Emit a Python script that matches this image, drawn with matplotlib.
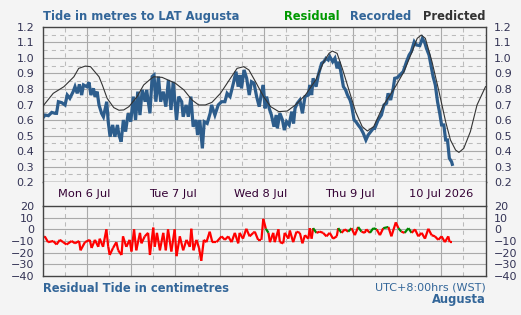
import numpy as np
import matplotlib
matplotlib.use('Agg')
import matplotlib.pyplot as plt
from matplotlib.collections import LineCollection

# hours since Mon 6 Jul 00:00
pred_h = [0, 2.9, 5.8, 8.5, 9.8, 11.6, 13, 15.3, 16.2, 17.5, 19.3, 20.7, 22, 23.4, 25.6, 27.4,
          29.3, 30.1, 32.4, 36, 38.3, 40.5, 42.3, 44.1, 45.9, 48.2, 50.9, 52.7, 54.5, 55.9, 57.7,
          59.9, 61.8, 64, 66.3, 68.5, 71.2, 74, 76.2, 77.6, 78.5, 79.8, 81.2, 83, 84.8, 86.6, 88,
          89.7, 92.4, 95.6, 97.9, 100.1, 101.5, 102.6, 103.7, 105.5, 107.4, 109.2, 110.5, 111.9,
          112.8, 114.1, 115.9, 117.7, 120]
pred_m = [0.686, 0.772, 0.815, 0.879, 0.933, 0.948, 0.944, 0.879, 0.826, 0.74, 0.68, 0.663, 0.665,
          0.686, 0.75, 0.826, 0.865, 0.879, 0.875, 0.837, 0.794, 0.729, 0.697, 0.697, 0.714, 0.772,
          0.869, 0.933, 0.944, 0.923, 0.847, 0.75, 0.686, 0.654, 0.658, 0.697, 0.761, 0.858, 0.976,
          1.03, 1.045, 1.03, 0.933, 0.794, 0.654, 0.557, 0.529, 0.557, 0.697, 0.815, 0.912, 1.04,
          1.127, 1.148, 1.127, 0.976, 0.783, 0.589, 0.471, 0.406, 0.391, 0.417, 0.525, 0.697, 0.815]

rec_h = [0, 0.7, 1.6, 2.5, 3.4, 3.8, 4.3, 5.2, 6.1, 6.7, 7.4, 8.3, 8.8, 9.4, 10, 10.6, 11.1, 12,
         12.6, 13.1, 13.8, 14.2, 14.8, 15.3, 16, 16.5, 17.4, 17.8, 18.3, 19, 19.6, 20.3, 20.7, 21.3,
         21.9, 22.5, 23.2, 23.9, 24.6, 25.2, 25.8, 26.4, 27, 27.8, 28.2, 29.1, 29.7, 30.2, 30.7,
         31.4, 32, 32.7, 33.4, 34.1, 34.8, 35.4, 36.3, 36.9, 37.7, 38.1, 38.9, 39.5, 40.2, 40.8,
         41.6, 42, 42.6, 43.3, 43.8, 44.6, 45.4, 45.8, 46.7, 47.6, 48.5, 49.4, 50, 50.8, 51.7, 52.4,
         53, 53.5, 53.9, 54.6, 55.3, 56, 56.6, 57.3, 58, 58.7, 59.3, 59.8, 60.3, 60.7, 61.4, 62,
         62.7, 63.3, 63.6, 64.3, 65, 65.5, 66.1, 66.8, 67.5, 68, 68.4, 69, 69.7, 70.4, 71.1, 72,
         72.4, 72.9, 73.3, 74.1, 74.7, 75.1, 75.6, 76.2, 76.8, 77.4, 77.8, 78.6, 79.2, 79.8, 80.3,
         80.8, 81.5, 82.1, 82.6, 83.3, 83.7, 84.4, 84.9, 85.5, 86.2, 86.9, 87.6, 88.2, 88.9, 89.6,
         90, 90.9, 91.8, 92.5, 93.2, 93.6, 94.3, 95, 95.4, 96.1, 96.8, 97.7, 98.6, 99.3, 99.9,
         100.7, 101.3, 102.2, 102.9, 103.6, 104, 104.7, 105.2, 105.8, 106.4, 107, 107.6, 108.1,
         108.7, 109.2, 109.7, 110.2, 110.8, 111]
rec_m = [0.611, 0.632, 0.628, 0.649, 0.643, 0.643, 0.718, 0.712, 0.697, 0.761, 0.74, 0.783, 0.815,
         0.772, 0.83, 0.761, 0.826, 0.815, 0.843, 0.761, 0.804, 0.751, 0.783, 0.697, 0.643, 0.621,
         0.718, 0.589, 0.492, 0.568, 0.492, 0.568, 0.503, 0.46, 0.6, 0.525, 0.643, 0.589, 0.751,
         0.6, 0.783, 0.632, 0.794, 0.718, 0.794, 0.643, 0.88, 0.89, 0.718, 0.88, 0.718, 0.783,
         0.686, 0.858, 0.665, 0.847, 0.6, 0.751, 0.718, 0.621, 0.697, 0.621, 0.751, 0.557, 0.6,
         0.503, 0.6, 0.417, 0.589, 0.578, 0.643, 0.697, 0.632, 0.697, 0.718, 0.718, 0.772, 0.751,
         0.837, 0.912, 0.815, 0.89, 0.804, 0.923, 0.869, 0.761, 0.847, 0.837, 0.751, 0.686, 0.772,
         0.826, 0.675, 0.751, 0.675, 0.632, 0.557, 0.632, 0.546, 0.643, 0.6, 0.535, 0.589, 0.568,
         0.654, 0.578, 0.675, 0.708, 0.729, 0.643, 0.751, 0.761, 0.826, 0.761, 0.869, 0.815, 0.89,
         0.923, 0.966, 0.976, 0.998, 0.987, 1.009, 0.976, 0.998, 0.933, 0.976, 0.912, 0.815, 0.794,
         0.761, 0.729, 0.697, 0.6, 0.589, 0.568, 0.546, 0.514, 0.471, 0.503, 0.525, 0.546, 0.546,
         0.6, 0.632, 0.697, 0.708, 0.772, 0.729, 0.804, 0.869, 0.873, 0.89, 0.912, 0.976, 1.019,
         1.041, 1.105, 1.084, 1.08, 1.127, 1.095, 1.062, 1.019, 0.955, 0.88, 0.826, 0.718, 0.643,
         0.568, 0.568, 0.471, 0.471, 0.353, 0.331, 0.314]

res_h = [0, 0.6, 1.5, 2.9, 3.8, 4.7, 5.6, 6.5, 7.9, 8.8, 9.9, 10.3, 11.5, 12.8, 13.3, 14.2, 15.1,
         15.5, 16.4, 17.3, 17.8, 18.2, 19.1, 20, 20.5, 21.4, 21.8, 22.7, 23.6, 24.1, 24.8, 25.4,
         26.4, 26.8, 27.7, 28.6, 29.1, 30, 30.4, 31, 31.8, 32.7, 33.4, 34, 34.9, 35.8, 36.3, 37.2,
         38.1, 39, 39.9, 40.3, 40.9, 41.7, 42.4, 43, 43.7, 44.4, 45.3, 46, 47.1, 48.5, 49.4, 50.3,
         51.2, 52.1, 53, 53.4, 54.3, 55.2, 56.1, 57.1, 57.5, 58.4, 59.3, 59.8, 60.5, 61.2, 61.6,
         62.5, 62.9, 63.9, 64.3, 65.2, 65.6, 66.6, 67, 67.9, 68.8, 69.7, 70.4, 71.1, 72, 72.4, 72.9,
         73.3, 74.2, 75.1, 76, 76.9, 77.8, 78.7, 79.7, 80.1, 81, 81.9, 82.8, 83.7, 84.6, 85.5, 86.4,
         87.3, 87.7, 88.7, 89.6, 90.5, 91.4, 92.3, 93.7, 94.5, 95.7, 96.4, 97.2, 98.1, 99.1, 100,
         100.9, 101.8, 102.7, 103.6, 104.5, 105.4, 106.3, 107.2, 108.1, 109, 109.9, 110.3, 111]
res_cm = [-7, -6, -11, -10, -13, -9, -11, -13, -10, -12, -10, -18, -11, -9, -16, -9, -15, -8, -15,
          0, -15, -22, -16, -11, -18, -22, -6, -15, -9, -19, 0, -18, -3, -12, -6, -3, -22, 1.5, -15,
          -3, -18, -3, -18, 0, -19, 0, -23, -6, -18, -9, -15, 0.5, -18, -9, -16, -27, -9, -11, -2,
          -11, -11, -6, -9, -6, -11, -3, -12, -3, -8, 0.5, -6, -3, -2, -9, -9, 9, 0.5, -3, -11, -3,
          -11, 0, -11, -12, -3, -8, -1, -11, -2, -3, -12, -5, -8, 1, -8, 1, -3, -2, -3, -6, -3, -8,
          -6, 1, -3, 0, -2, 1, -5, 2, -2, -3, 0, -3, 1, 0, -5, 1, 2, -6, 6, 1, -2, -3, 1, -3, 0,
          -6, -3, -8, 0.5, -5, -6, -9, -6, -11, -6, -11, -11]

day_labels = ['Mon 6 Jul', 'Tue 7 Jul', 'Wed 8 Jul', 'Thu 9 Jul', '10 Jul 2026']

bg = '#f4f4f4'
blue = '#2d5d8c'
txt_blue = '#336699'
tick_col = '#333355'
border = '#444444'

fig = plt.figure(figsize=(5.21, 3.15), dpi=100, facecolor=bg)
ax = fig.add_axes([0.0816, 0.4222, 0.8503, 0.4921], facecolor=bg)
axd = fig.add_axes([0.0816, 0.3460, 0.8503, 0.0762], facecolor=bg)
axr = fig.add_axes([0.0816, 0.1238, 0.8503, 0.2222], facecolor=bg)

solid = dict(color='#aaaaaa', lw=0.8, zorder=0)
dashed = dict(color='#bbbbbb', lw=0.75, ls=(0, (4, 4)), zorder=0)

# grid for both data panels
for a in (ax, axr):
    for h in range(6, 120, 6):
        if h % 12 == 0:
            a.axvline(h, **solid)
        else:
            a.axvline(h, **dashed)
for v in np.arange(0.25, 1.2, 0.05):
    if round(v * 100) % 10 == 0:
        ax.axhline(v, **solid)
    else:
        ax.axhline(v, **dashed)
for v in range(-30, 20, 10):
    axr.axhline(v, **solid)

# tide lines
ax.plot(pred_h, pred_m, color='#333333', lw=0.8, zorder=3)
ax.plot(rec_h, rec_m, color=blue, lw=2.3, zorder=2, solid_joinstyle='miter')

# residual, green where it rises just above zero
pts = np.column_stack([res_h, res_cm])
segs = np.stack([pts[:-1], pts[1:]], axis=1)
cols = []
for s in segs:
    lo, hi = min(s[0][1], s[1][1]), max(s[0][1], s[1][1])
    cols.append('#008800' if 0 < hi < 5 and lo > -5 else '#ff0000')
axr.add_collection(LineCollection(segs, colors=cols, linewidths=1.6, zorder=2))

for a in (ax, axd, axr):
    a.set_xlim(0, 120)
    for sp in a.spines.values():
        sp.set_color(border)
        sp.set_linewidth(1.0)
    a.set_xticks([])

ax.set_ylim(0.2, 1.2)
ax.set_yticks(np.arange(0.2, 1.21, 0.1))
ax.set_yticklabels(['%.1f' % v for v in np.arange(0.2, 1.21, 0.1)])
axr.set_ylim(-40, 20)
axr.set_yticks(range(-40, 21, 10))
for a in (ax, axr):
    a.tick_params(axis='y', length=0, labelsize=8, labelcolor=tick_col, labelright=True, pad=6)

# day label band
axd.set_ylim(0, 1)
axd.set_yticks([])
axd.spines['top'].set_visible(False)
axd.spines['bottom'].set_visible(False)
for h in (24, 48, 72, 96):
    axd.axvline(h, **solid)
for i, lab in enumerate(day_labels):
    off = 0 if i == 4 else -0.8
    axd.text(i * 24 + 12 + off, 0.5, lab, ha='center', va='center', fontsize=8.2, color='#330033')

# titles and legend
fig.text(0.0816, 0.949, 'Tide in metres to LAT Augusta', fontsize=8.3, fontweight='bold',
         color=txt_blue, va='center')
fig.text(0.652, 0.949, 'Residual', fontsize=8.3, fontweight='bold', color='#009900', va='center', ha='right')
fig.text(0.789, 0.949, 'Recorded', fontsize=8.3, fontweight='bold', color=txt_blue, va='center', ha='right')
fig.text(0.932, 0.949, 'Predicted', fontsize=8.3, fontweight='bold', color='#333333', va='center', ha='right')
fig.text(0.0816, 1 - 289 / 315, 'Residual Tide in centimetres', fontsize=8.3, fontweight='bold',
         color=txt_blue, va='center')
fig.text(0.932, 1 - 287 / 315, 'UTC+8:00hrs (WST)', fontsize=8, color=txt_blue, va='center', ha='right')
fig.text(0.932, 1 - 300 / 315, 'Augusta', fontsize=8.3, fontweight='bold', color=txt_blue,
         va='center', ha='right')

fig.savefig('out.png', dpi=100, facecolor=bg)
